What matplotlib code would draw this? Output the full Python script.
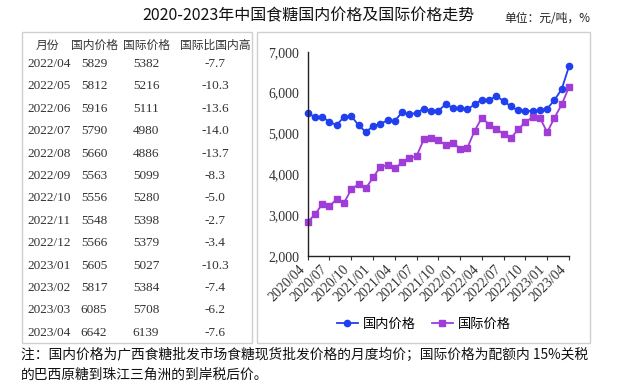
import matplotlib
matplotlib.use("Agg")
import matplotlib.pyplot as plt
import matplotlib.transforms as mtransforms
from matplotlib.patches import Rectangle

plt.rcParams['font.family'] = ['Noto Sans CJK SC', 'DejaVu Sans']
SERIF = 'Liberation Serif'

# table data (2022/04 - 2023/04)
tbl_months = ["2022/04", "2022/05", "2022/06", "2022/07", "2022/08", "2022/09", "2022/10",
              "2022/11", "2022/12", "2023/01", "2023/02", "2023/03", "2023/04"]
tbl_domestic = [5829, 5812, 5916, 5790, 5660, 5563, 5556, 5548, 5566, 5605, 5817, 6085, 6642]
tbl_intl = [5382, 5216, 5111, 4980, 4886, 5099, 5280, 5398, 5379, 5027, 5384, 5708, 6139]
tbl_gap = [-7.7, -10.3, -13.6, -14.0, -13.7, -8.3, -5.0, -2.7, -3.4, -10.3, -7.4, -6.2, -7.6]
tbl_header = ["月份", "国内价格", "国际价格", "国际比国内高"]

# chart values for 2020/04 - 2022/03
domestic_early = [5506, 5392, 5408, 5278, 5204, 5408, 5424, 5204, 5033, 5180, 5237, 5318,
                  5302, 5522, 5465, 5506, 5604, 5555, 5555, 5710, 5629, 5620, 5588, 5710]
intl_early = [2837, 3016, 3269, 3220, 3392, 3302, 3629, 3759, 3653, 3922, 4176, 4224,
              4143, 4290, 4388, 4445, 4853, 4878, 4837, 4714, 4771, 4624, 4649, 5065]
domestic = domestic_early + tbl_domestic
intl = intl_early + tbl_intl
xlabels = ["2020/04", "2020/07", "2020/10", "2021/01", "2021/04", "2021/07", "2021/10",
           "2022/01", "2022/04", "2022/07", "2022/10", "2023/01", "2023/04"]

W, H = 619, 386
fig = plt.figure(figsize=(W / 100, H / 100), dpi=100)


def fx(px):
    return px / W


def fy(py):
    return 1 - py / H


fig.text(fx(308), fy(16), "2020-2023年中国食糖国内价格及国际价格走势", ha='center', va='center',
         fontsize=11.5, color='#111111')
fig.text(fx(590), fy(19), "单位：元/吨，%", ha='right', va='center', fontsize=8.5, color='#222222')

# boxes
for x0, x1, y0, y1 in [(22, 252, 32, 343), (257, 590, 32, 343)]:
    fig.patches.append(Rectangle((fx(x0), fy(y1)), fx(x1) - fx(x0), fy(y0) - fy(y1),
                                 transform=fig.transFigure, fill=False,
                                 edgecolor='#cfcfcf', linewidth=1))

# table
col_x = [47, 94, 146, 215]
for i in range(4):
    fig.text(fx(col_x[i]), fy(45), tbl_header[i], ha='center', va='center', fontsize=8.5, color='#333333')
for r in range(len(tbl_months)):
    y = fy(64 + r * 22.4)
    fig.text(fx(27), y, tbl_months[r], ha='left', va='center', fontsize=9.5, family=SERIF, color='#333333')
    fig.text(fx(col_x[1]), y, str(tbl_domestic[r]), ha='center', va='center', fontsize=9.5, family=SERIF, color='#333333')
    fig.text(fx(col_x[2]), y, str(tbl_intl[r]), ha='center', va='center', fontsize=9.5, family=SERIF, color='#333333')
    fig.text(fx(col_x[3]), y, f"{tbl_gap[r]:.1f}", ha='center', va='center', fontsize=9.5, family=SERIF, color='#333333')

# chart
ax = fig.add_axes([fx(307.7), fy(256), fx(569) - fx(307.7), fy(51.7) - fy(256)])
x = list(range(len(domestic)))
ax.plot(x, domestic, color='#2040f0', marker='o', markersize=4.5, linewidth=1.3, label='国内价格', clip_on=False)
ax.plot(x, intl, color='#a03cd8', marker='s', markersize=4.2, linewidth=1.3, label='国际价格', clip_on=False)
ax.set_xlim(0, len(domestic) - 1)
ax.set_ylim(2000, 7000)
ax.set_yticks([2000, 3000, 4000, 5000, 6000, 7000])
ax.set_yticklabels([f"{v:,}" for v in [2000, 3000, 4000, 5000, 6000, 7000]], family=SERIF, fontsize=10, color='#333333')
ax.set_xticks(list(range(0, len(domestic), 3)))
ax.set_xticklabels(xlabels, rotation=45, ha='right', family=SERIF, fontsize=10, color='#333333')
offset = mtransforms.ScaledTranslation(7 / 100, 0, fig.dpi_scale_trans)
for lbl in ax.get_xticklabels():
    lbl.set_transform(lbl.get_transform() + offset)
ax.tick_params(axis='y', length=0, pad=6)
ax.tick_params(axis='x', length=3, width=0.8, color='#333333', pad=2)
for s in ['top', 'right']:
    ax.spines[s].set_visible(False)
for s in ['left', 'bottom']:
    ax.spines[s].set_color('#222222')
    ax.spines[s].set_linewidth(1)

fig.legend(loc='center', bbox_to_anchor=(fx(424), fy(324)), ncol=2, frameon=False, fontsize=9.5,
           handlelength=1.6, columnspacing=1.2, handletextpad=0.4)

# footnote
fig.text(fx(21), fy(355), "注：国内价格为广西食糖批发市场食糖现货批发价格的月度均价；国际价格为配额内 15%关税",
         ha='left', va='center', fontsize=9.9, color='#111111')
fig.text(fx(21), fy(375), "的巴西原糖到珠江三角洲的到岸税后价。", ha='left', va='center', fontsize=9.9, color='#111111')

fig.savefig("out.png", dpi=100)
